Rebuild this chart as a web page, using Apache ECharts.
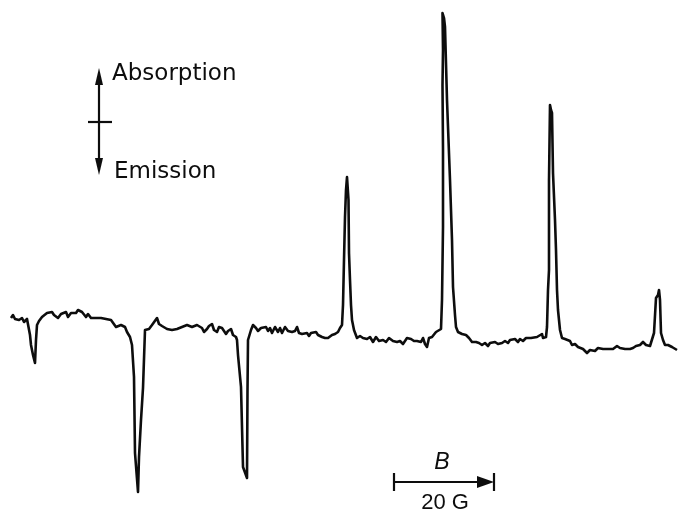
<!DOCTYPE html>
<html>
<head>
<meta charset="utf-8">
<script src="https://cdn.jsdelivr.net/npm/echarts@6/dist/echarts.min.js"></script>
<style>html,body{margin:0;padding:0;background:#fff;}#c{width:678px;height:511px;}</style>
</head>
<body>
<div id="c"></div>
<script>
// Magnetic field (G) and signal intensity (arbitrary units, + = absorption, - = emission)
var field = [
2.2,2.6,3.0,3.4,3.8,4.4,4.8,5.4,5.8,
6.0,6.2,6.6,7.0,7.2,7.4,
7.8,8.4,8.8,9.4,9.8,10.4,10.8,11.2,11.6,12.2,12.6,13.2,13.6,14.2,14.6,15.2,15.6,16.0,16.4,16.8,17.2,17.6,18.2,18.6,19.2,19.6,20.2,20.6,21.2,21.6,22.2,22.6,23.2,23.6,24.2,24.6,25.0,25.4,26.0,
26.4,26.8,27.0,27.4,27.6,27.8,28.2,28.6,29.0,
29.4,29.8,30.4,30.8,31.4,31.8,32.4,32.8,33.4,33.8,34.4,34.8,35.4,35.8,36.4,36.8,37.4,37.8,38.4,38.8,39.4,39.8,40.4,40.8,41.4,41.8,42.4,42.8,43.4,43.8,44.4,44.8,45.2,45.6,46.2,46.6,47.2,
47.4,47.6,48.2,48.6,49.0,49.4,49.5,49.6,
50.2,50.6,51.2,51.6,52.2,52.6,53.2,53.6,54.0,54.4,55.0,55.6,56.0,56.4,57.0,57.6,58.0,58.4,59.0,59.4,59.8,60.4,60.8,61.4,61.8,62.2,62.6,63.2,63.6,64.0,64.4,65.0,65.6,66.0,66.4,67.0,67.6,68.0,68.4,
68.6,68.8,69.0,69.2,69.4,69.6,69.7,69.8,70.0,70.2,70.4,70.8,71.4,
72.0,72.6,73.0,73.4,74.0,74.6,75.2,75.8,76.6,77.2,77.8,78.6,79.4,80.0,80.6,81.0,81.4,82.2,82.8,83.4,84.2,84.6,85.0,85.4,85.8,86.4,86.8,87.2,87.6,88.2,
88.4,88.6,88.6,88.5,88.6,88.5,88.8,89.0,89.4,90.0,90.4,90.6,91.0,91.2,
91.6,92.4,93.2,93.8,94.4,95.2,95.8,96.4,97.0,97.6,98.0,98.4,99.0,99.6,100.0,100.4,101.0,101.6,102.0,102.4,103.0,103.6,104.0,104.6,105.2,105.6,106.2,106.6,107.4,107.8,108.4,108.6,109.2,
109.4,109.6,109.8,109.8,110.0,110.2,110.4,110.6,111.0,111.2,111.4,111.6,112.0,112.4,
113.0,113.4,114.0,114.4,115.0,115.6,116.0,116.6,117.0,117.4,118.0,118.4,119.0,119.6,120.0,120.6,121.2,122.0,122.6,123.4,124.0,125.0,126.0,126.6,127.2,128.0,128.6,129.2,130.0,130.4,
130.8,131.2,131.6,131.8,132.0,132.2,132.6,133.0,133.6,134.4,135.4
];
var signal = [
12,15,11,13,10,12,8,11,9,
-5,-15,-25,-33,-10,5,
9,13,11,17,15,18,15,17,12,16,14,18,13,17,18,17,20,22,18,17,13,16,12,14,12,13,12,13,11,12,10,8,3,2,5,7,3,-2,-7,
-15,-47,-123,-125,-162,-127,-90,-58,0,
2,1,5,3,12,6,4,3,1,2,0,2,1,2,3,2,5,7,3,1,5,6,2,-2,1,4,6,0,-2,3,2,1,-4,-1,1,-5,-7,
-10,-25,-57,-137,-137,-148,-60,-10,
0,5,2,-1,2,0,3,-1,2,-3,3,-2,2,-3,3,-1,1,-2,-1,3,-3,-4,-5,-3,-6,-3,-4,-2,-5,-7,-7,-8,-8,-7,-5,-4,-2,2,5,
25,70,113,140,153,155,130,77,50,25,10,0,-8,
-6,-8,-7,-9,-7,-12,-7,-11,-10,-12,-8,-11,-12,-11,-14,-11,-8,-9,-11,-11,-12,-8,-14,-17,-8,-7,-5,-2,-3,1,
30,103,180,245,280,317,312,303,230,150,90,43,15,3,
-2,-4,-5,-8,-12,-12,-13,-15,-13,-16,-13,-15,-12,-14,-12,-13,-11,-13,-10,-12,-9,-12,-9,-11,-8,-10,-8,-10,-7,-9,-4,-8,-7,
3,40,60,150,225,220,217,157,110,80,40,20,0,-8,
-9,-7,-11,-15,-14,-17,-16,-19,-21,-23,-20,-18,-21,-18,-16,-19,-19,-19,-19,-16,-18,-19,-19,-18,-16,-15,-12,-15,-16,-15,
-3,32,35,40,30,-3,-10,-15,-15,-17,-20
];
var senseLabels = ["Absorption", "Emission"];
var fieldLabel = "B";
var scaleLabel = "20 G";

var pts = field.map(function (b, i) { return [b, signal[i]]; });
var chart = echarts.init(document.getElementById('c'), null, {renderer: 'canvas'});
var ink = '#0d0d0d';
chart.setOption({
  animation: false,
  backgroundColor: '#fff',
  grid: {left: 0, right: 0, top: 0, bottom: 0},
  xAxis: {type: 'value', min: 0, max: 135.6, show: false},
  yAxis: {type: 'value', min: -181, max: 330, show: false},
  series: [{
    type: 'line', data: pts, showSymbol: false, symbol: 'none',
    lineStyle: {color: ink, width: 2.6, join: 'round'}
  }],
  graphic: [
    // sense arrow
    {type: 'line', shape: {x1: 99, y1: 80, x2: 99, y2: 163}, style: {stroke: ink, lineWidth: 2.2}},
    {type: 'polygon', shape: {points: [[99, 68], [95, 85], [103, 85]]}, style: {fill: ink}},
    {type: 'polygon', shape: {points: [[99, 175], [95, 158], [103, 158]]}, style: {fill: ink}},
    {type: 'line', shape: {x1: 88, y1: 122, x2: 112, y2: 122}, style: {stroke: ink, lineWidth: 2.2}},
    {type: 'text', x: 112, y: 74, style: {text: senseLabels[0], font: '23px "DejaVu Sans"', fill: ink, verticalAlign: 'middle', align: 'left'}},
    {type: 'text', x: 114, y: 172, style: {text: senseLabels[1], font: '23px "DejaVu Sans"', fill: ink, verticalAlign: 'middle', align: 'left'}},
    // field scale bar
    {type: 'line', shape: {x1: 394, y1: 482, x2: 482, y2: 482}, style: {stroke: ink, lineWidth: 2.2}},
    {type: 'line', shape: {x1: 394, y1: 473, x2: 394, y2: 491}, style: {stroke: ink, lineWidth: 2.2}},
    {type: 'line', shape: {x1: 494, y1: 473, x2: 494, y2: 491}, style: {stroke: ink, lineWidth: 2.2}},
    {type: 'polygon', shape: {points: [[494, 482], [477, 476], [477, 488]]}, style: {fill: ink}},
    {type: 'text', x: 442, y: 463, style: {text: fieldLabel, font: 'italic 23px "Liberation Sans"', fill: ink, verticalAlign: 'middle', align: 'center'}},
    {type: 'text', x: 445, y: 503, style: {text: scaleLabel, font: '22px "Liberation Sans"', fill: ink, verticalAlign: 'middle', align: 'center'}}
  ]
});
</script>
</body>
</html>
